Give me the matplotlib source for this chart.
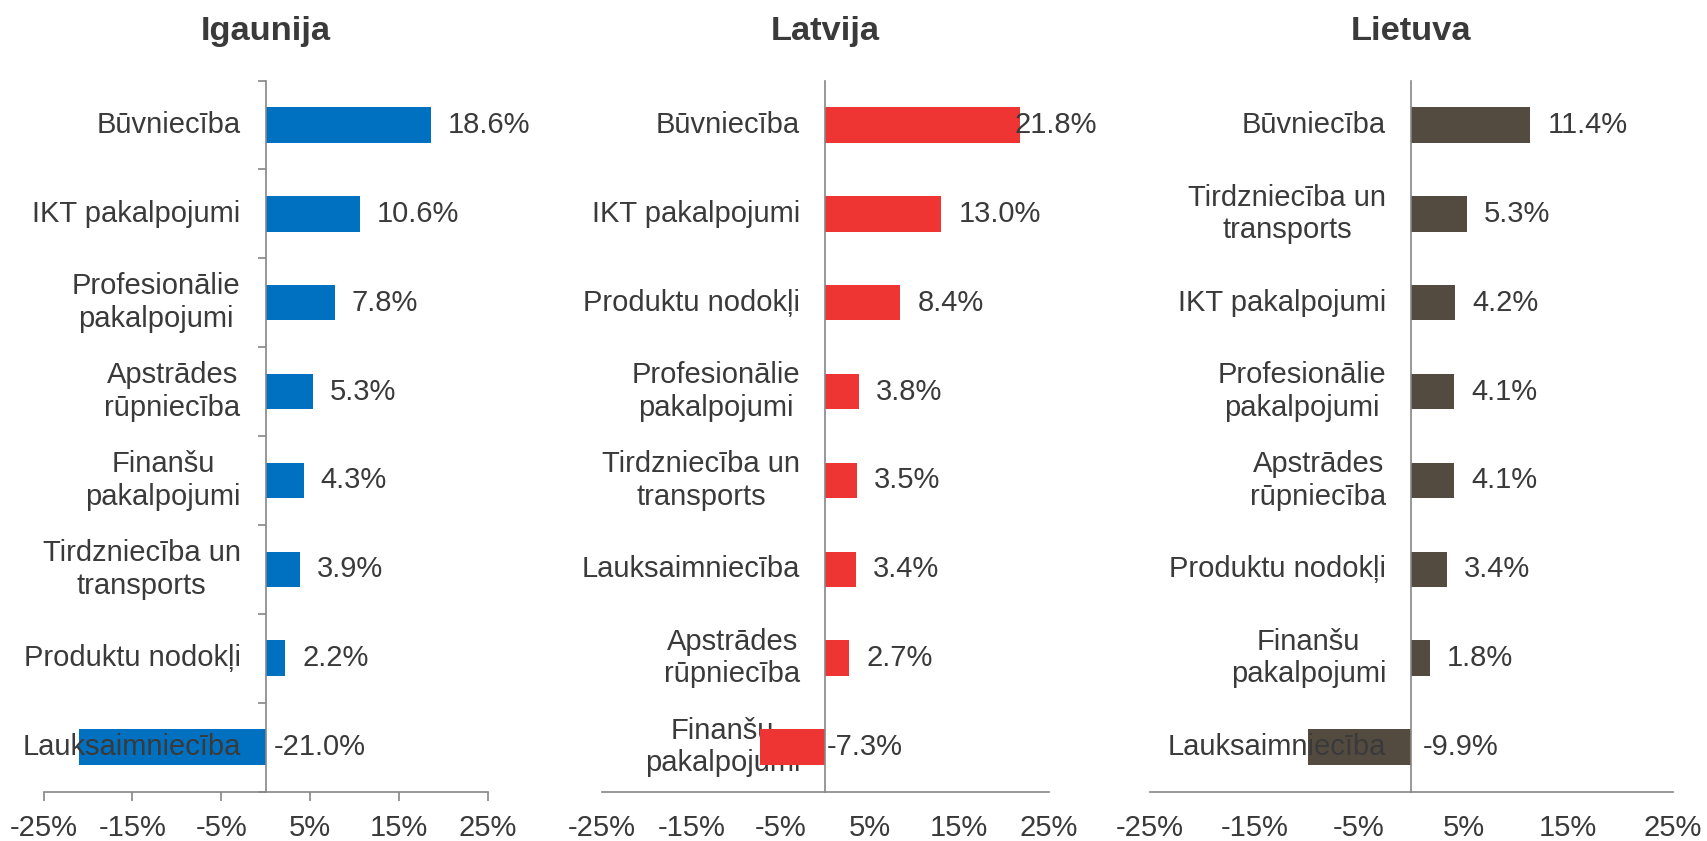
import matplotlib
matplotlib.use("Agg")
import matplotlib.pyplot as plt
import numpy as np

plt.rcParams['font.family'] = ['Liberation Sans', 'DejaVu Sans']

# ---- data ----
titles = ["Igaunija", "Latvija", "Lietuva"]

cats_ee = ["Būvniecība", "IKT pakalpojumi", "Profesionālie\npakalpojumi",
           "Apstrādes\nrūpniecība", "Finanšu\npakalpojumi",
           "Tirdzniecība un\ntransports", "Produktu nodokļi", "Lauksaimniecība"]
vals_ee = [18.6, 10.6, 7.8, 5.3, 4.3, 3.9, 2.2, -21.0]

cats_lv = ["Būvniecība", "IKT pakalpojumi", "Produktu nodokļi",
           "Profesionālie\npakalpojumi", "Tirdzniecība un\ntransports",
           "Lauksaimniecība", "Apstrādes\nrūpniecība", "Finanšu\npakalpojumi"]
vals_lv = [21.8, 13.0, 8.4, 3.8, 3.5, 3.4, 2.7, -7.3]

cats_lt = ["Būvniecība", "Tirdzniecība un\ntransports", "IKT pakalpojumi",
           "Profesionālie\npakalpojumi", "Apstrādes\nrūpniecība",
           "Produktu nodokļi", "Finanšu\npakalpojumi", "Lauksaimniecība"]
vals_lt = [11.4, 5.3, 4.2, 4.1, 4.1, 3.4, 1.8, -9.9]

xticks = [-25, -15, -5, 5, 15, 25]
xtick_labels = ["-25%", "-15%", "-5%", "5%", "15%", "25%"]

# ---- style ----
W, H, DPI = 1707, 841, 100
colors = ["#0070C0", "#EE3533", "#544B40"]
text_color = "#3A3A3A"
axis_color = "#868686"
FS = 21.0
TFS = 24.8

# axes boxes in pixels: (left, right); top/bottom shared
boxes = [(43.5, 487.7), (602.0, 1048.5), (1150.0, 1672.5)]
top_px, bot_px = 80.5, 791.5
show_ticks = [True, False, False]
text_above_bars = [True, False, True]
neg_label_off_px = [8, 2, 12]
pos_label_off_px = 17
label_gap_px = 25

fig = plt.figure(figsize=(W / DPI, H / DPI), dpi=DPI)

panels = [(cats_ee, vals_ee), (cats_lv, vals_lv), (cats_lt, vals_lt)]
px2pt = 72.0 / DPI

for k, ((cats, vals), title) in enumerate(zip(panels, titles)):
    l, r = boxes[k]
    ax = fig.add_axes([l / W, 1 - bot_px / H, (r - l) / W, (bot_px - top_px) / H])
    y = np.arange(len(cats))
    tz = 3 if text_above_bars[k] else 1
    ax.barh(y, vals, height=0.4, color=colors[k], zorder=1.5)
    ax.set_xlim(-25, 25)
    ax.set_ylim(len(cats) - 0.5, -0.5)

    for s in ["top", "right"]:
        ax.spines[s].set_visible(False)
    ax.spines["left"].set_position(("data", 0))
    for s in ["left", "bottom"]:
        ax.spines[s].set_color(axis_color)
        ax.spines[s].set_linewidth(1.2)
        ax.spines[s].set_zorder(2.5)

    ax.set_xticks(xticks)
    ax.set_xticklabels(xtick_labels, fontsize=FS, color=text_color)
    ax.set_yticks(np.arange(-0.5, len(cats), 1.0))
    ax.set_yticklabels([])
    if show_ticks[k]:
        ax.tick_params(axis="x", direction="out", length=6.5, width=1.2,
                       color=axis_color, pad=10)
        ax.tick_params(axis="y", direction="out", length=5.5, width=1.2,
                       color=axis_color)
    else:
        ax.tick_params(axis="x", length=0, pad=16.5)
        ax.tick_params(axis="y", length=0)

    # category labels at the zero line
    for yi, c in zip(y, cats):
        ax.annotate(c, xy=(0, yi), xytext=(-label_gap_px * px2pt, 0),
                    textcoords="offset points", ha="right", va="center",
                    multialignment="center", linespacing=1.2,
                    fontsize=FS, color=text_color, zorder=tz)

    # value labels
    fig.canvas.draw()
    renderer = fig.canvas.get_renderer()
    ax_right_px = r
    for yi, v in zip(y, vals):
        if v >= 0:
            t = ax.annotate(f"{v:.1f}%", xy=(v, yi),
                            xytext=(pos_label_off_px * px2pt, 0),
                            textcoords="offset points", ha="left", va="center",
                            fontsize=FS, color=text_color, zorder=3)
            bb = t.get_window_extent(renderer)
            limit = ax_right_px + 49
            if bb.x1 > limit:
                shift = (bb.x1 - limit)
                t.set_position(((pos_label_off_px - shift) * px2pt, 0))
        else:
            ax.annotate(f"{v:.1f}%", xy=(0, yi),
                        xytext=(neg_label_off_px[k] * px2pt, 0),
                        textcoords="offset points", ha="left", va="center",
                        fontsize=FS, color=text_color, zorder=3)

    zero_px = l + (r - l) * 0.5
    fig.text(zero_px / W, 1 - 40 / H, title, ha="center", va="baseline",
             fontsize=TFS, fontweight="bold", color=text_color)

fig.savefig("out.png", dpi=DPI)
